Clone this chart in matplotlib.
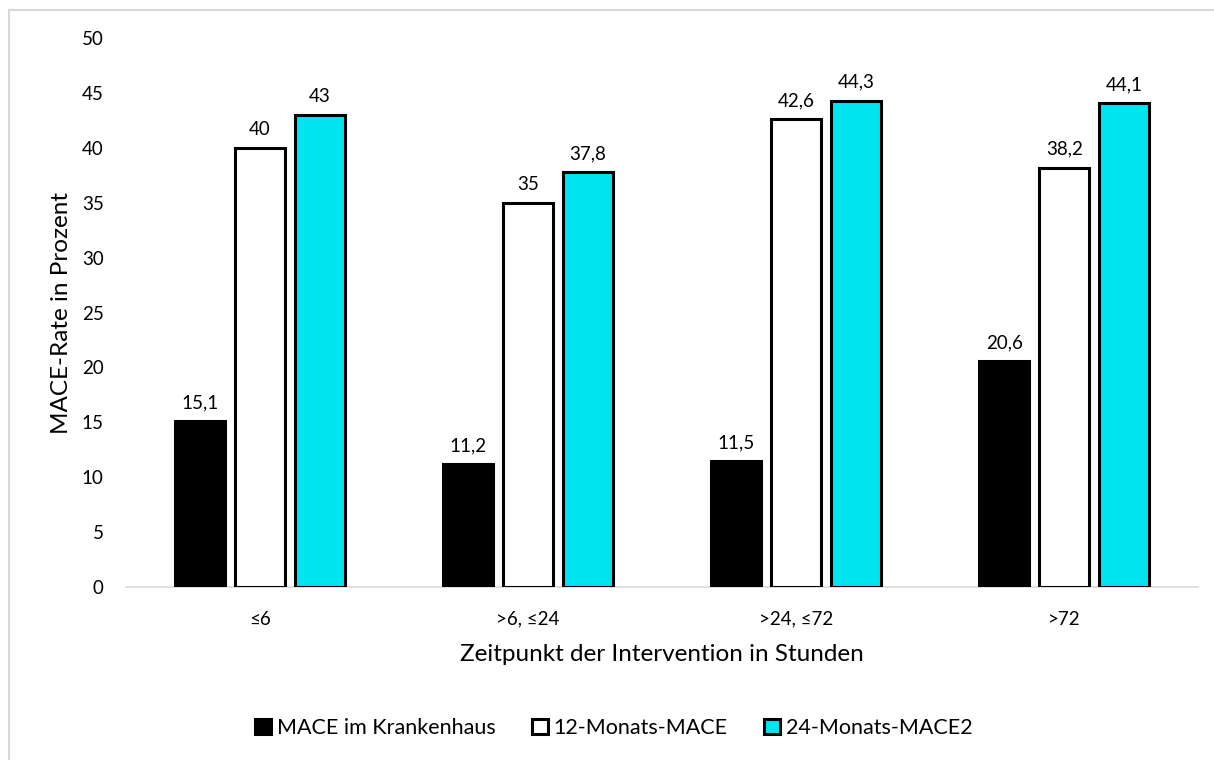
import numpy as np
import matplotlib.pyplot as plt
from matplotlib.lines import Line2D

plt.rcParams['font.family'] = ['Lato', 'DejaVu Sans']

categories = ['≤6', '>6, ≤24', '>24, ≤72', '>72']
series_names = ['MACE im Krankenhaus', '12-Monats-MACE', '24-Monats-MACE2']
mace_hospital = [15.1, 11.2, 11.5, 20.6]
mace_12m = [40, 35, 42.6, 38.2]
mace_24m = [43, 37.8, 44.3, 44.1]

colors = ['#000000', '#ffffff', '#00e4f0']

fig = plt.figure(figsize=(12.14, 7.6), dpi=100)
ax = fig.add_axes([0.1038, 0.2276, 0.8832, 0.7224])

# chart border: only the top and left edges fall inside the image
W, H = 1214, 760
fig.lines.append(Line2D([9 / W, 1], [1 - 9.5 / H, 1 - 9.5 / H],
                        transform=fig.transFigure, color='#d9d9d9', linewidth=1.5))
fig.lines.append(Line2D([9 / W, 9 / W], [0, 1 - 9.5 / H],
                        transform=fig.transFigure, color='#d9d9d9', linewidth=1.5))

x = np.arange(len(categories))
width = 0.185
offsets = [-0.224, 0, 0.224]

for vals, name, color, off in zip([mace_hospital, mace_12m, mace_24m],
                                  series_names, colors, offsets):
    bars = ax.bar(x + off, vals, width, color=color, edgecolor='black',
                  linewidth=2.2, label=name, zorder=3)
    for b, v in zip(bars, vals):
        ax.annotate(f'{v:g}'.replace('.', ','),
                    (b.get_x() + b.get_width() / 2, v),
                    xytext=(0, 7), textcoords='offset points',
                    ha='center', va='bottom', fontsize=13.5)

ax.set_xlim(-0.5, len(categories) - 0.5)
ax.set_ylim(0, 50)
ax.set_yticks(np.arange(0, 51, 5))
ax.set_xticks(x)
ax.set_xticklabels(categories)
ax.tick_params(axis='both', length=0, labelsize=13.5)
ax.tick_params(axis='x', pad=17)
ax.tick_params(axis='y', pad=16)

for s in ['top', 'right', 'left']:
    ax.spines[s].set_visible(False)
ax.spines['bottom'].set_color('#d9d9d9')
ax.spines['bottom'].set_linewidth(1.2)

ax.set_ylabel('MACE-Rate in Prozent', fontsize=17.5, labelpad=7)
ax.set_xlabel('Zeitpunkt der Intervention in Stunden', fontsize=17.5, labelpad=12)

ax.legend(loc='center', bbox_to_anchor=(0.455, -0.257), ncol=3, frameon=False,
          fontsize=15.5, handlelength=0.75, handleheight=0.75,
          handletextpad=0.25, columnspacing=1.7)

fig.savefig('out.png', dpi=100)
